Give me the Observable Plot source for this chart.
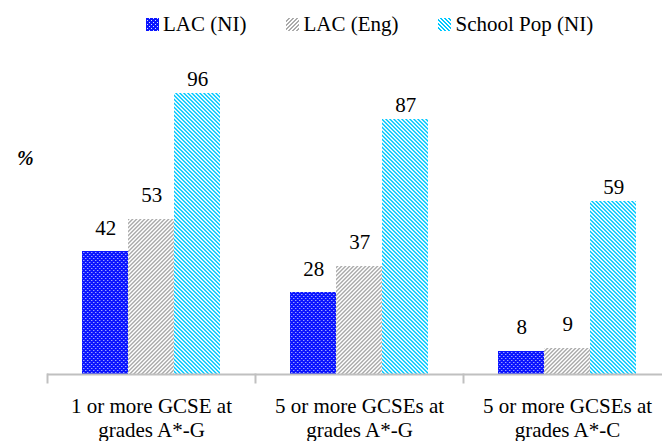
<!DOCTYPE html>
<html><head><meta charset="utf-8">
<script src="https://cdn.jsdelivr.net/npm/d3@7"></script>
<script src="https://cdn.jsdelivr.net/npm/@observablehq/plot@0.6"></script>
<style>
body{margin:0;background:#fff;}
#wrap{position:relative;width:662px;height:441px;overflow:hidden;color:#000;}
#legend{position:absolute;top:12px;left:146px;display:flex;align-items:center;font-size:21px;line-height:24px;white-space:nowrap;}
#legend .item{display:flex;align-items:center;margin-right:40px;}
#legend svg{margin-right:4px;display:block;}
#pct{position:absolute;left:17px;top:146px;font-size:20px;font-style:italic;font-weight:bold;line-height:24px;}
#chart{position:absolute;top:0;left:0;}
</style></head>
<body>
<svg width="0" height="0" style="position:absolute">
  <defs>
    <pattern id="pBlue" width="4" height="4" patternUnits="userSpaceOnUse">
      <rect width="4" height="4" fill="#0a14ff"/>
      <rect x="3" y="0" width="1" height="1" fill="#d8dcff"/>
      <rect x="1" y="2" width="1" height="1" fill="#d8dcff"/>
    </pattern>
    <pattern id="pGray" width="4" height="4" patternUnits="userSpaceOnUse">
      <rect width="4" height="4" fill="#ffffff"/>
      <rect x="2" y="0" width="2" height="1" fill="#ababab"/>
      <rect x="1" y="1" width="2" height="1" fill="#ababab"/>
      <rect x="0" y="2" width="2" height="1" fill="#ababab"/>
      <rect x="0" y="3" width="1" height="1" fill="#ababab"/>
      <rect x="3" y="3" width="1" height="1" fill="#ababab"/>
    </pattern>
    <pattern id="pCyan" width="4" height="4" patternUnits="userSpaceOnUse">
      <rect width="4" height="4" fill="#00c8ff"/>
      <rect x="0" y="0" width="2" height="1" fill="#ffffff"/>
      <rect x="1" y="1" width="2" height="1" fill="#ffffff"/>
      <rect x="2" y="2" width="2" height="1" fill="#ffffff"/>
      <rect x="3" y="3" width="1" height="1" fill="#ffffff"/>
      <rect x="0" y="3" width="1" height="1" fill="#ffffff"/>
    </pattern>
  </defs>
</svg>
<div id="wrap">
  <div id="chart"></div>
  <div id="legend"></div>
  <div id="pct" style="font-family:'Liberation Serif'">%</div>
</div>
<script>
// ---- data ----
const categories = ["1 or more GCSE at\ngrades A*-G", "5 or more GCSEs at\ngrades A*-G", "5 or more GCSEs at\ngrades A*-C"];
const series = ["LAC (NI)", "LAC (Eng)", "School Pop (NI)"];
const lacNI = [42, 28, 8];
const lacEng = [53, 37, 9];
const schoolPopNI = [96, 87, 59];
const patterns = ["url(#pBlue)", "url(#pGray)", "url(#pCyan)"];

const valuesBySeries = [lacNI, lacEng, schoolPopNI];
const table = [];
categories.forEach((c, i) => {
  series.forEach((s, j) => table.push({category: c, series: s, value: valuesBySeries[j][i]}));
});

const SERIF = "Liberation Serif";

const plot = Plot.plot({
  width: 662,
  height: 441,
  marginLeft: 46.7,
  marginRight: -8.7,
  marginTop: 81.3,
  marginBottom: 67,
  style: {fontSize: "21px", color: "#000", background: "transparent", overflow: "visible"},
  fx: {domain: categories, padding: 0, label: null},
  x: {domain: series, paddingInner: 0, paddingOuter: 0.737, axis: null},
  y: {domain: [0, 100], axis: null},
  color: {domain: series, range: patterns, type: "ordinal"},
  marks: [
    Plot.barY(table, {fx: "category", x: "series", y: "value", fill: "series", shapeRendering: "crispEdges"}),
    Plot.text(table.filter(d => d.series !== series[2]), {
      fx: "category", x: "series", y: "value", text: d => String(d.value),
      lineAnchor: "bottom", dy: -17, fontSize: 21, fill: "#000"
    }),
    Plot.text(table.filter(d => d.series === series[2]), {
      fx: "category", x: "series", y: "value", text: d => String(d.value),
      lineAnchor: "bottom", dy: -8, fontSize: 21, fill: "#000"
    }),
    Plot.ruleY([0], {stroke: "#c0c0c0", strokeWidth: 2}),
    Plot.frame({anchor: "left", stroke: "#c0c0c0", strokeWidth: 2, insetTop: 292.7, insetBottom: -8}),
    Plot.axisFx({anchor: "bottom", tickSize: 0, tickPadding: 22, fontSize: 21, lineHeight: 1.12, label: null})
  ]
});
document.getElementById("chart").appendChild(plot);
d3.select(plot).style("font-family", SERIF, "important");
d3.select(plot).selectAll("g, text, tspan").attr("font-family", SERIF).style("font-family", SERIF, "important");

// legend
const legend = document.getElementById("legend");
legend.style.setProperty("font-family", SERIF, "important");
series.forEach((s, j) => {
  const item = document.createElement("div");
  item.className = "item";
  item.innerHTML = `<svg width="13" height="13"><rect width="13" height="13" fill="${patterns[j]}" shape-rendering="crispEdges"/></svg><span style="font-family:'Liberation Serif'">${s}</span>`;
  legend.appendChild(item);
});
document.getElementById("pct").style.setProperty("font-family", SERIF, "important");
</script>
</body></html>
